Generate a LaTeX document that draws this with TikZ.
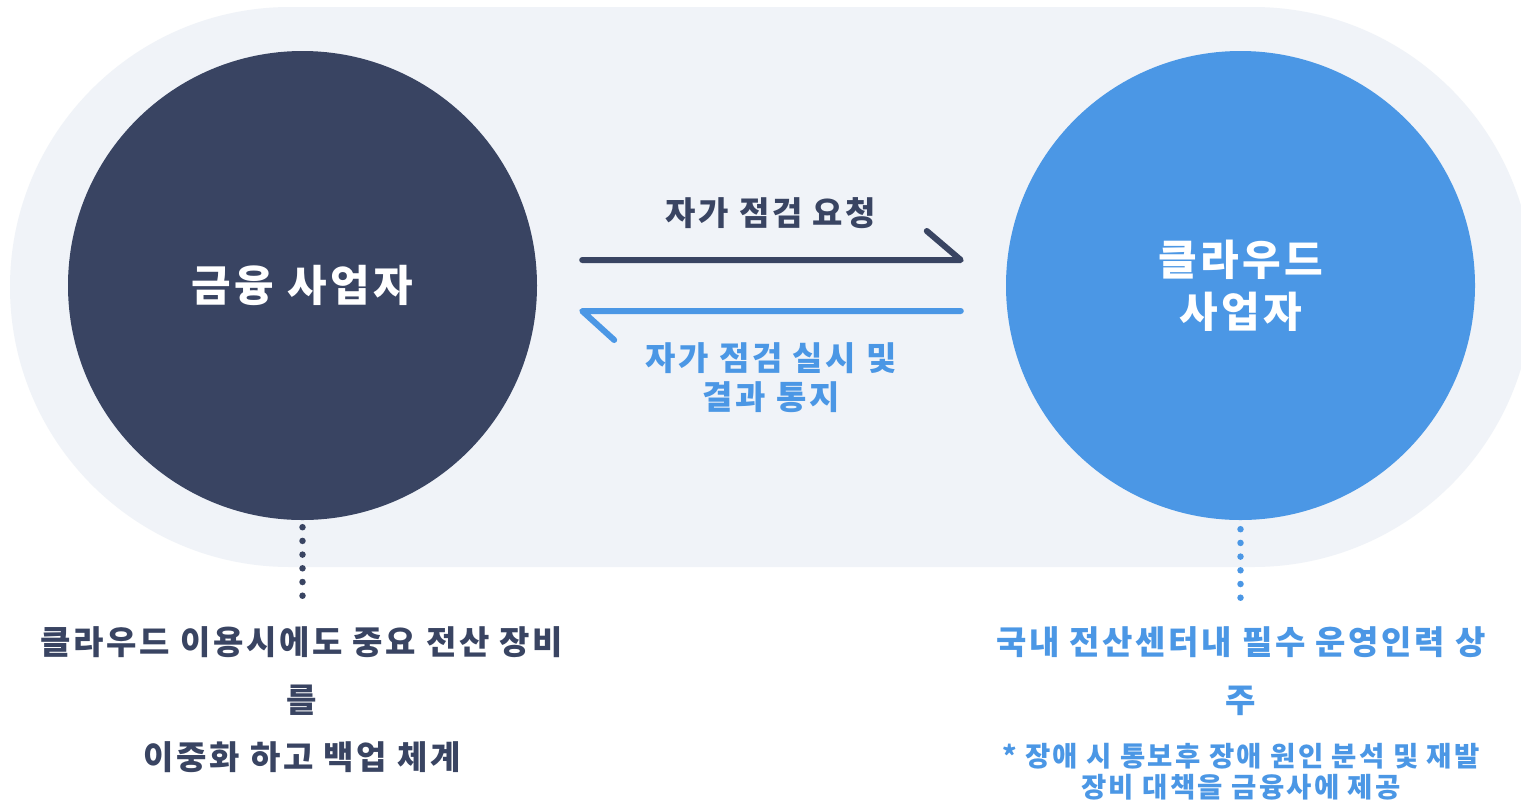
\documentclass[tikz,border=0pt]{standalone}
\usepackage{fontspec}
\setmainfont{Noto Sans CJK KR}[LetterSpace=8]
\definecolor{navy}{HTML}{394462}
\definecolor{sky}{HTML}{4B97E5}
\definecolor{pill}{HTML}{F0F3F8}
\tikzset{
  party/.style={circle, inner sep=0pt, minimum size=469pt, text=white, align=center,
    font=\bfseries\fontsize{42}{52}\selectfont},
  flow/.style={line width=6pt, line cap=round, line join=round},
  dotline/.style={line width=6.5pt, line cap=round, dash pattern=on 0pt off 13.7pt},
  label/.style={align=center, inner sep=0pt, font=\bfseries\fontsize{33}{40}\selectfont},
  note/.style={align=center, inner sep=0pt, font=\bfseries\fontsize{33}{57.5}\selectfont},
  small/.style={align=center, inner sep=0pt, font=\bfseries\fontsize{27.5}{31}\selectfont}
}
\begin{document}
\begin{tikzpicture}[x=1pt,y=-1pt]
\clip (0,0) rectangle (1521,804);
\fill[white] (0,0) rectangle (1521,804);
\node[fill=pill, rounded corners=279.9pt, minimum width=1523pt, minimum height=560pt, inner sep=0pt] (bg) at (771.5,287) {};
\node[party, fill=navy, font=\bfseries\fontsize{43}{52}\selectfont] (L) at (302.5,285.5) {금융 사업자};
\node[party, fill=sky] (R) at (1240.5,285.5) {클라우드\\사업자};
% arrows
\draw[flow, navy] ([xshift=45pt,yshift=25.5pt]L.east) -- ([xshift=-45pt,yshift=25.5pt]R.west) -- ++(-34,-29);
\draw[flow, sky] ([xshift=-45pt,yshift=-25.5pt]R.west) -- ([xshift=45pt,yshift=-25.5pt]L.east) -- ++(32,29);
\node[label, text=navy] (req) at (771,213) {자가 점검 요청};
\node[label, text=sky, font=\bfseries\fontsize{33}{39}\selectfont] (res) at (771,378) {자가 점검 실시 및\\결과 통지};
% dotted leaders
\coordinate (lend) at (302.5,597);
\coordinate (rend) at (1240.5,598);
\draw[dotline, navy] ([yshift=-7pt]L.south) -- (lend);
\draw[dotline, sky] ([yshift=-9pt]R.south) -- (rend);
% notes
\node[note, text=navy] (ln) at (302,700) {클라우드 이용시에도 중요 전산 장비\\를\\이중화 하고 백업 체계};
\node[note, text=sky] (rn) at (1241,671) {국내 전산센터내 필수 운영인력 상\\주};
\node[small, text=sky] (rs) at (1241,771.5) {* 장애 시 통보후 장애 원인 분석 및 재발\\장비 대책을 금융사에 제공};
\end{tikzpicture}
\end{document}
